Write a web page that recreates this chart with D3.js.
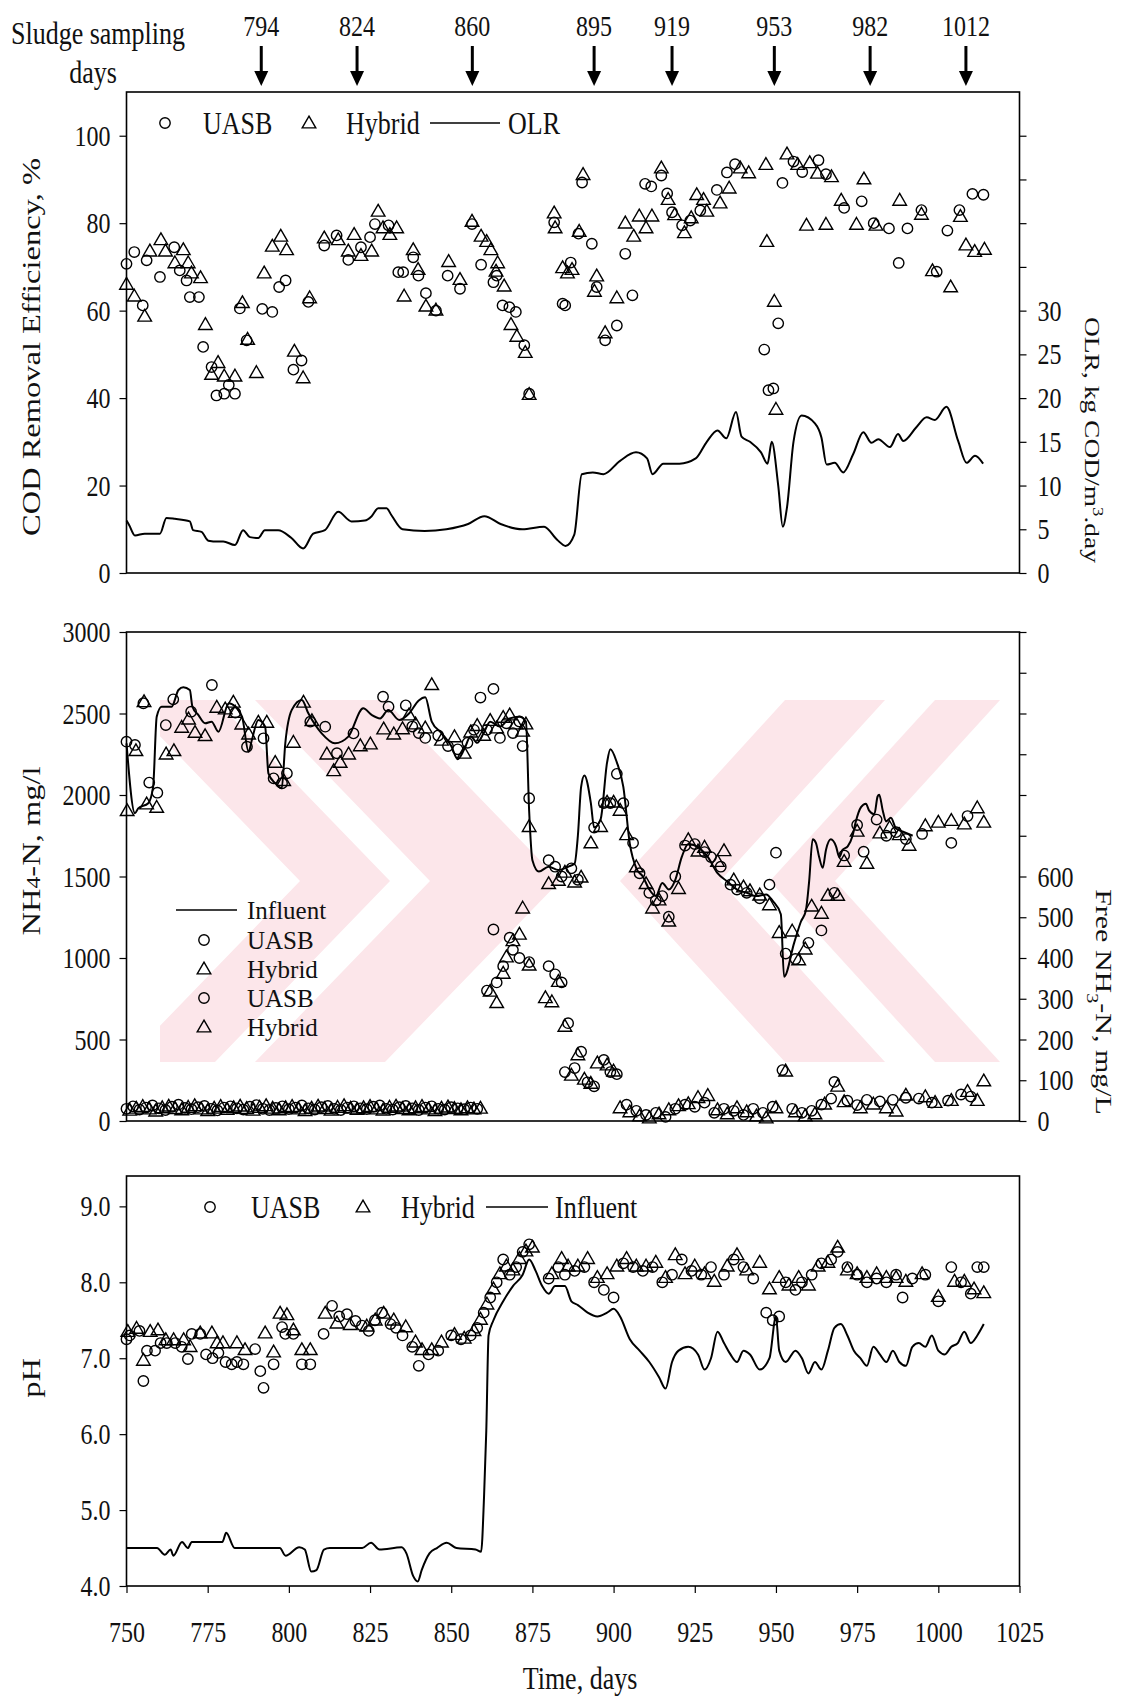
<!DOCTYPE html>
<html>
<head>
<meta charset="utf-8">
<script src="https://cdn.jsdelivr.net/npm/d3@7"></script>
<style>
  body { margin: 0; background: #fff; }
  text { font-family: "Liberation Serif", "Times New Roman", serif; fill: #111; }
</style>
</head>
<body>
<svg id="chart" width="1125" height="1701"></svg>
<script>
// ---- data: [day, value] ----
var samplingDays = ["794", "824", "860", "895", "919", "953", "982", "1012"];
var arrowAt = [791.5, 821, 856.5, 894, 918, 949.5, 979, 1008.5];

var codUasb = [[750,70.7],[752.4,73.4],[755,61.2],[756.2,71.5],[760.3,67.7],[764.7,74.5],[766.4,69.2],[768.5,66.9],[769.5,63.1],[772.3,63.1],[773.6,51.7],[776.2,47.1],[777.7,40.6],[780.1,41],[781.5,43],[783.4,41],[784.9,60.5],[787,53.2],[791.8,60.4],[794.9,59.7],[797,65.4],[799,66.9],[801.4,46.5],[803.9,48.6],[806,62],[810.9,74.9],[814.7,77.2],[818.3,71.6],[822.2,74.5],[825,76.8],[826.5,79.8],[830.7,79.5],[833.7,68.8],[835.2,68.8],[838.3,72.2],[839.9,68],[842.2,64],[845.3,60],[848.9,68],[852.7,65],[856.4,79.8],[859.2,70.5],[863,66.5],[864,68],[865.8,61.2],[867.9,60.8],[869.9,59.7],[872.5,52.1],[874,41],[881.7,80.2],[884.3,61.6],[885.1,61.2],[886.8,71],[889.2,77.6],[890.3,89.3],[893.3,75.3],[894.8,65.4],[897.4,53.2],[901,56.6],[903.6,73],[905.8,63.5],[909.7,89],[911.6,88.4],[914.7,90.9],[916.5,86.8],[918,82.5],[921.1,79.5],[923.6,80.6],[926.7,82.9],[931.8,87.6],[934.9,91.6],[937.4,93.5],[946.4,51.1],[947.7,41.8],[949.2,42.2],[950.7,57.1],[952,89.2],[955.4,94.1],[958.1,91.7],[963.1,94.4],[965.4,91.2],[971,83.5],[976.4,85],[980.1,80],[984.8,78.8],[987.8,70.9],[990.5,78.8],[994.8,83],[999.5,68.9],[1002.8,78.3],[1006.5,83],[1010.5,86.7],[1013.9,86.5]];

var codHybrid = [[750,65.8],[752.4,63.1],[755.6,58.5],[757.2,73.4],[760.6,76],[762,73.4],[764.9,70.7],[767.5,73.7],[769,70.7],[770,68.4],[772.8,67.3],[774.3,56.6],[776.2,45.2],[778.2,47.9],[780.1,44.8],[783.4,44.8],[785.7,61.6],[787.3,53.2],[790,45.6],[792.4,68.4],[794.9,74.5],[797.5,76.8],[799.3,73.7],[801.7,50.5],[804.4,44.4],[806.4,62.7],[810.9,76.4],[815.2,76],[818.3,73.4],[820.1,77.2],[822.2,72.4],[825.5,73.4],[827.5,82.5],[829,78.7],[831.1,77.2],[833.2,78.7],[835.5,63.1],[838.3,73.7],[839.8,69.2],[842.2,60.8],[845.3,59.9],[849.2,71],[852.7,66.9],[856.4,80.2],[859.2,76.8],[860.9,75.6],[862.2,73.7],[863.8,68.8],[864.3,70.7],[866.3,65.4],[868.4,56.6],[870.2,53.9],[872.8,50.2],[874,40.6],[881.7,82.1],[882,78.7],[884.3,69.6],[885.8,68.4],[887.2,69.2],[889.4,77.9],[890.6,90.9],[894.1,64.2],[894.8,67.7],[897.4,54.7],[901,62.7],[903.6,79.8],[906.2,76.8],[907.9,81.4],[910,78.7],[911.8,81.4],[914.7,92.4],[916.8,85.2],[918.8,81.7],[921.8,77.6],[923.9,81],[925.6,86.3],[927.7,85.2],[928.7,82.5],[932.8,84.4],[935.6,87.8],[939,92.4],[941.6,91.3],[946.9,93.2],[947.2,75.6],[949.5,61.9],[950,37.2],[953.4,95.6],[956.7,93.2],[959.4,79.3],[960.4,93.6],[962.8,91.2],[965.4,79.5],[967.1,90.4],[970.1,85],[974.8,79.5],[977.1,89.9],[980.8,79.3],[988.1,85],[994.8,81.8],[998.2,68.9],[1003.8,65.2],[1006.8,81.3],[1008.5,74.8],[1011.2,73.3],[1014.2,73.8]];

var olr = [[750,6],[750.8,5.5],[752.6,4.3],[755.6,4.5],[760.3,4.5],[762.3,6.3],[764.9,6.2],[769.5,5.9],[770.5,4.9],[773.1,4.7],[775.2,3.7],[778.2,3.6],[779.8,3.6],[783.4,3.2],[785.9,4.9],[788,4.1],[790.6,4],[792.6,4.9],[796.7,4.9],[800.8,4],[804.4,2.8],[807.5,4.5],[811.1,4.9],[815.2,7],[819.3,5.9],[823.4,6],[825.5,6.5],[827.5,7.4],[830.1,7.4],[831.6,6.6],[835,5],[841.8,4.8],[848.5,5],[855.2,5.6],[860.2,6.5],[865.2,5.6],[871.9,5],[878.6,5.3],[882.6,3.8],[885.2,3.1],[887.9,4.4],[890.2,11.3],[893.6,11.5],[896.9,11.3],[901.9,12.8],[906.9,13.8],[910.3,13.1],[912,11.3],[915.3,12.5],[920.3,12.5],[925.3,13.1],[928.7,15],[932,16.3],[934.7,15.4],[937.7,18.4],[939.4,15.6],[942,15],[945.4,13.8],[947.4,12.5],[948.7,15],[950.7,10],[952.1,5.3],[953.4,7.5],[955.4,15],[957.9,18],[962,17.1],[964,15.5],[965.6,12.4],[968.1,12.6],[970.7,11.5],[973.8,13.6],[976.9,16.1],[979.4,14.9],[981.5,15.3],[985.1,14.4],[987.6,15.9],[989.2,15.1],[993.3,16.7],[996.4,17.8],[998.9,17.5],[1002.5,19],[1006.1,15.1],[1008.7,12.6],[1011.3,13.4],[1013.8,12.5]];

var nh4Influent = [[750,2317],[752.6,1888],[753.6,1918],[756.7,1949],[758.2,2051],[759.3,2480],[760.8,2542],[763.9,2542],[766,2644],[767.5,2661],[769.5,2644],[770.3,2542],[772.1,2491],[774.2,2440],[776.2,2450],[778.3,2388],[781.5,2563],[783.5,2542],[785.6,2480],[787.6,2266],[788.6,2337],[790.6,2460],[792.7,2419],[793.7,2133],[795.8,2072],[797.8,2041],[798.9,2317],[800.9,2522],[804,2583],[806,2501],[810.1,2378],[814.2,2317],[818.3,2358],[822.9,2532],[825.5,2491],[828.1,2470],[830.6,2522],[834,2460],[837,2500],[840,2580],[842,2600],[844,2450],[847,2380],[850,2300],[852,2220],[854,2280],[856,2360],[858,2320],[860,2380],[862,2450],[865,2420],[868,2470],[871,2480],[873,2450],[874,1900],[875,1600],[877,1530],[880,1560],[883,1540],[886,1560],[888,1580],[889,1750],[890,2050],[891,2120],[893,1950],[894,1800],[896,1850],[898,2200],[899,2280],[901,2200],[903,2050],[905,1700],[907,1550],[909,1500],[911,1420],[913,1380],[915,1460],[917,1420],[919,1480],[921,1620],[923,1700],[926,1680],[929,1620],[932,1520],[935,1470],[938,1420],[941,1400],[944,1380],[947,1390],[949,1350],[951.5,1268],[952.5,885],[955.6,1093],[957.7,1224],[959.2,1290],[960.2,1466],[961.3,1728],[962.3,1706],[963.3,1619],[964.4,1553],[965.4,1663],[966.9,1728],[968.5,1685],[969.5,1619],[970.5,1663],[972.1,1685],[973.6,1750],[974.6,1838],[976.2,1926],[977.7,1947],[978.7,1904],[980.3,1882],[981.3,1991],[981.8,2002],[982.9,1904],[983.9,1838],[985.4,1860],[987,1794],[989.5,1772],[992.1,1750]];

var nh4Uasb = [[750,2327],[752.6,2307],[755.2,2563],[757,2076],[759.5,2014],[762.1,2429],[764.4,2587],[769.9,2511],[776.3,2675],[783.5,2505],[787.1,2296],[792.2,2348],[795.3,2102],[797.9,2072],[799.4,2133],[806.6,2450],[811.2,2419],[814.8,2256],[819.9,2378],[829,2603],[830.7,2542],[836,2550],[838,2420],[840,2380],[842,2350],[846,2365],[849,2300],[852,2280],[855,2320],[857,2400],[859,2598],[861,2400],[863,2651],[865,2350],[867,2440],[869,2380],[871,2451],[872,2300],[874,1980],[880,1600],[882,1560],[884,1500],[887,1550],[889,1480],[894,1800],[897,1950],[899,1950],[901,2130],[903,1950],[906,1706],[908,1520],[911,1400],[913,1353],[915,1380],[917,1253],[919,1500],[922,1690],[925,1699],[928,1650],[930,1619],[933,1560],[936,1450],[938,1420],[941,1400],[945,1366],[948,1450],[950,1646],[953,1027],[956,994],[960,1093],[964,1169],[968,1400],[971,1629],[975,1816],[977,1652],[981,1849],[984,1750],[987,1772],[990,1730],[995,1761],[1004,1706],[1009,1871]];

var nh4Hybrid = [[750.2,1898],[752.9,2266],[755.4,2566],[756.2,1939],[759.3,1918],[762.2,2245],[764.6,2266],[767,2409],[769.1,2460],[771.1,2378],[774.2,2358],[777.8,2532],[780.4,2522],[782.9,2563],[783.5,2501],[785.5,2429],[787.6,2368],[790.6,2440],[793.2,2440],[795.8,2194],[798.4,2082],[801.4,2317],[804.5,2563],[807.1,2450],[811.7,2245],[813.8,2143],[815.8,2194],[818.4,2245],[822,2296],[825.1,2307],[829.2,2399],[832.3,2368],[835,2400],[837,2485],[839,2430],[842,2405],[844,2671],[847,2330],[851,2351],[854,2250],[856,2380],[858,2420],[860,2360],[862,2451],[864,2405],[866,2470],[868,2485],[870,2430],[872,2385],[873,2430],[874,1800],[880,1450],[883,1470],[885,1520],[888,1460],[890,1490],[893,1700],[896,1800],[898,1950],[900,1950],[902,1900],[904,1750],[907,1553],[910,1450],[912,1300],[914,1350],[917,1220],[920,1420],[923,1719],[926,1650],[928,1673],[932,1586],[934,1652],[937,1473],[940,1430],[942,1406],[945,1380],[948,1320],[951,1150],[955,1159],[957,983],[959,1049],[961,1312],[964,1268],[966,1378],[969,1378],[971,1586],[975,1772],[978,1575],[982,1761],[985,1794],[988,1750],[991,1685],[996,1805],[1000,1827],[1004,1838],[1008,1816],[1012,1915],[1014,1827]];

var freeUasb = [[750,30],[752,36],[754,28],[756,33],[758,38],[760,31],[762,27],[764,35],[766,40],[768,32],[770,29],[772,34],[774,37],[776,30],[778,26],[780,33],[782,36],[784,31],[786,28],[788,35],[790,39],[792,30],[794,27],[796,32],[798,36],[800,29],[802,33],[804,38],[806,31],[808,28],[810,34],[812,37],[814,30],[816,27],[818,33],[820,36],[822,31],[824,29],[826,35],[828,38],[830,30],[832,28],[834,34],[836,37],[838,31],[840,27],[842,33],[844,36],[846,30],[848,28],[850,34],[852,31],[854,29],[856,33],[858,30],[861,320],[863,470],[864,340],[866,380],[868,450],[869,420],[871,400],[874,390],[880,380],[882,360],[884,340],[886,240],[885,120],[888,130],[890,170],[892,95],[894,85],[897,150],[899,120],[901,115],[904,40],[907,25],[910,15],[913,20],[916,10],[919,30],[922,40],[925,35],[928,45],[931,20],[934,30],[937,25],[940,15],[943,30],[946,20],[949,35],[952,125],[955,30],[958,20],[961,25],[964,40],[967,55],[968,96],[972,50],[975,39],[978,52],[982,48],[986,52],[990,57],[994,55],[998,45],[1003,50],[1007,65],[1010,60]];

var freeHybrid = [[751,24],[753,29],[755,33],[757,27],[759,22],[761,30],[763,34],[765,28],[767,25],[769,31],[771,35],[773,27],[775,23],[777,29],[779,33],[781,26],[783,30],[785,34],[787,28],[789,24],[791,31],[793,35],[795,29],[797,25],[799,30],[801,33],[803,27],[805,23],[807,29],[809,34],[811,28],[813,24],[815,31],[817,35],[819,29],[821,26],[823,30],[825,33],[827,27],[829,24],[831,31],[833,34],[835,28],[837,25],[839,30],[841,33],[843,27],[845,23],[847,29],[849,32],[851,28],[853,25],[855,30],[857,27],[859,29],[862,316],[864,288],[866,360],[867,400],[869,440],[871,456],[872,520],[874,380],[879,300],[881,290],[883,340],[885,230],[887,110],[889,160],[891,100],[893,90],[895,140],[898,135],[900,120],[902,30],[905,20],[908,10],[911,5],[914,15],[917,25],[920,35],[923,40],[926,55],[929,60],[932,25],[935,15],[938,30],[941,20],[944,10],[947,5],[950,30],[953,120],[956,20],[959,10],[962,15],[965,39],[969,83],[971,45],[976,30],[980,39],[984,30],[987,22],[990,61],[996,57],[999,43],[1004,48],[1009,70],[1012,48],[1014,96]];

var phInfluent = [[750,4.5],[759.4,4.5],[761.8,4.41],[763.6,4.48],[764.4,4.4],[767.1,4.58],[768.9,4.5],[770.1,4.58],[779.5,4.58],[780.7,4.7],[783.3,4.5],[797.2,4.5],[799,4.4],[803.2,4.51],[804.9,4.48],[806.9,4.19],[808.5,4.21],[810.8,4.48],[812.6,4.5],[822.6,4.5],[825.3,4.57],[827.9,4.48],[834.7,4.51],[836.2,4.43],[838.3,4.13],[839.7,4.06],[840.9,4.21],[843.3,4.43],[845.6,4.5],[848.6,4.57],[851.6,4.5],[857.5,4.48],[859.2,4.45],[860.1,5.17],[860.8,6.05],[861.5,7.3],[863,7.5],[866,7.75],[869,7.95],[872,8.1],[874,8.3],[876,8.15],[878,7.95],[880,7.85],[882,7.95],[885,7.95],[887,7.75],[889,7.7],[892,7.6],[895,7.55],[898,7.6],[900,7.65],[902,7.55],[905,7.25],[908,7.1],[911,6.95],[914,6.75],[916,6.6],[918,6.95],[920,7.1],[923,7.15],[926,7.05],[928,6.85],[930,7.0],[932,7.35],[934,7.2],[936,7.05],[938,6.95],[940,7.1],[942,7.05],[945,6.85],[948,7.0],[950,7.55],[951,7.1],[953,6.95],[956,7.1],[958,7.0],[960,6.8],[962,6.95],[964,6.85],[966,7.1],[968,7.4],[970,7.45],[972,7.3],[974,7.1],[976,7.0],[978,6.9],[980,7.15],[982,7.05],[984,6.95],[986,7.1],[988,6.95],[990,6.9],[992,7.15],[994,7.2],[996,7.15],[998,7.3],[1000,7.1],[1002,7.05],[1004,7.15],[1006,7.2],[1008,7.35],[1010,7.2],[1012,7.3],[1014,7.45]];

var phUasb = [[750,7.25],[751,7.3],[754,7.36],[755.2,6.7],[756.3,7.1],[758.8,7.1],[760.5,7.2],[762.4,7.2],[765,7.2],[767,7.15],[768.9,6.99],[770.1,7.32],[772.7,7.32],[774.5,7.05],[776.5,7.0],[778.3,7.07],[780.5,6.95],[782.4,6.92],[784,6.95],[786,6.92],[789.6,7.12],[791.2,6.83],[792.2,6.61],[795.3,6.92],[797.9,7.41],[798.9,7.32],[801.4,7.32],[804,6.92],[806.6,6.92],[810.7,7.32],[813.3,7.69],[815.5,7.55],[817.9,7.58],[820.5,7.49],[822.5,7.43],[824.6,7.36],[826.5,7.5],[828.7,7.6],[831.3,7.45],[833,7.4],[835,7.3],[838,7.15],[840,6.9],[843,7.05],[846,7.1],[850,7.3],[853,7.25],[856,7.3],[858,7.4],[860,7.6],[862,7.8],[864,8.0],[866,8.3],[868,8.1],[870,8.2],[872,8.4],[874,8.5],[880,8.05],[883,8.2],[885,8.1],[888,8.15],[891,8.2],[894,8.0],[897,7.9],[900,7.8],[903,8.25],[906,8.2],[909,8.15],[912,8.2],[915,8.0],[918,8.1],[921,8.3],[924,8.15],[927,8.1],[930,8.2],[934,8.1],[937,8.3],[940,8.2],[943,8.05],[947,7.6],[949,7.5],[951,7.55],[953,8.0],[956,7.9],[958,8.0],[961,8.1],[964,8.25],[967,8.3],[969,8.4],[972,8.2],[975,8.1],[978,8.0],[981,8.05],[984,8.0],[987,8.1],[989,7.8],[992,8.05],[996,8.1],[1000,7.75],[1004,8.2],[1007,8.0],[1010,7.85],[1012,8.2],[1014,8.2]];

var phHybrid = [[750.4,7.34],[753.1,7.38],[755.2,6.96],[757.3,7.34],[759.7,7.36],[762.1,7.23],[764.5,7.23],[767.6,7.23],[769.6,7.14],[772.7,7.32],[776.3,7.32],[777.9,7.19],[779.7,7.19],[784,7.19],[786.5,7.1],[792.7,7.32],[795.3,7.07],[797.3,7.58],[799.4,7.56],[801.4,7.36],[804,7.1],[806.6,7.1],[811.2,7.58],[814.8,7.45],[818.9,7.43],[824,7.41],[826.6,7.49],[829.2,7.58],[832.3,7.49],[836,7.4],[839,7.2],[841,7.1],[844,7.1],[847,7.2],[851,7.3],[854,7.25],[857,7.35],[859,7.5],[861,7.7],[863,7.9],[865,8.1],[867,8.2],[869,8.15],[871,8.3],[873,8.4],[875,8.45],[881,8.1],[884,8.3],[886,8.2],[889,8.2],[892,8.3],[895,8.05],[898,8.1],[901,8.2],[904,8.3],[907,8.2],[910,8.2],[913,8.25],[916,8.05],[919,8.35],[922,8.1],[925,8.2],[928,8.1],[931,8.0],[935,8.2],[938,8.35],[941,8.15],[945,8.25],[948,7.9],[951,8.05],[954,7.95],[957,8.05],[960,7.95],[963,8.2],[966,8.25],[969,8.45],[972,8.15],[975,8.1],[978,8.05],[981,8.1],[984,8.05],[987,8.05],[990,8.0],[995,8.1],[1000,7.8],[1005,8.0],[1008,8.0],[1011,7.9],[1014,7.85]];

var dayTicks = [750, 775, 800, 825, 850, 875, 900, 925, 950, 975, 1000, 1025];
var codTicks = [0, 20, 40, 60, 80, 100];
var olrTicks = [0, 5, 10, 15, 20, 25, 30, 35, 40, 45, 50];
var nh4Ticks = [0, 500, 1000, 1500, 2000, 2500, 3000];
var freeTicks = [0, 100, 200, 300, 400, 500, 600, 700, 800, 900, 1000, 1100, 1200];
var phTicks = [4, 5, 6, 7, 8, 9];

// ---- layout ----
var SY = 1.25;            // scanned glyphs are taller than they are wide
var left = 126.5, right = 1019.5;
var svg = d3.select("#chart");

var x = d3.scaleLinear().domain([750, 1025]).range([left, right]);
var yCod = d3.scaleLinear().domain([0, 110]).range([573, 92]);
var yOlr = d3.scaleLinear().domain([0, 55]).range([573, 92]);
var yNh4 = d3.scaleLinear().domain([0, 3000]).range([1121, 632]);
var yFree = d3.scaleLinear().domain([0, 1200]).range([1121, 632]);
var yPh = d3.scaleLinear().domain([4, 9.4]).range([1586, 1176]);

function txt(g, x0, y0, size, anchor, rot, sy) {
    return g.append("text")
        .attr("transform", "translate(" + x0 + "," + y0 + ") scale(1," + (sy || SY) + ")" + (rot ? " rotate(" + rot + ")" : ""))
        .attr("text-anchor", anchor || "start")
        .attr("dy", "0.35em")
        .style("font-size", size + "px");
}

function styleAxis(g, size) {
    g.selectAll("path.domain").remove();
    g.selectAll("line").attr("stroke", "#000").attr("stroke-width", 1.2);
    g.selectAll("text")
        .attr("transform", "scale(1," + SY + ")")
        .style("font-size", size + "px")
        .style("font-family", "'Liberation Serif', 'Times New Roman', serif")
        .attr("fill", "#111");
}

function frame(top, bottom) {
    svg.append("rect")
        .attr("x", left).attr("y", top)
        .attr("width", right - left).attr("height", bottom - top)
        .attr("fill", "none").attr("stroke", "#000").attr("stroke-width", 1.6);
}

function circles(data, ys) {
    svg.append("g").selectAll("circle").data(data).enter().append("circle")
        .attr("cx", function (d) { return x(d[0]); })
        .attr("cy", function (d) { return ys(d[1]); })
        .attr("r", 5.2)
        .attr("fill", "none").attr("stroke", "#000").attr("stroke-width", 1.4);
}

var tri = d3.symbol().type(d3.symbolTriangle).size(80);
function triangles(data, ys) {
    svg.append("g").selectAll("path").data(data).enter().append("path")
        .attr("d", tri)
        .attr("transform", function (d) { return "translate(" + x(d[0]) + "," + ys(d[1]) + ")"; })
        .attr("fill", "none").attr("stroke", "#000").attr("stroke-width", 1.4);
}

function curve(data, ys) {
    var line = d3.line()
        .x(function (d) { return x(d[0]); })
        .y(function (d) { return ys(d[1]); })
        .curve(d3.curveMonotoneX);
    svg.append("path").datum(data)
        .attr("d", line)
        .attr("fill", "none").attr("stroke", "#000").attr("stroke-width", 2);
}

// ---- faint pink watermark behind the middle panel (scan artefact) ----
var wm = svg.append("g").attr("fill", "#fce6ea");
svg.append("clipPath").attr("id", "wmclip").append("rect")
    .attr("x", 160).attr("y", 700).attr("width", 910).attr("height", 362);
wm.attr("clip-path", "url(#wmclip)");
// chevron stripe: apex span [a1,a2] at the middle row, arms reaching dx at top/bottom
function chevron(a1, a2, dx) {
    var top = 700, mid = 881, bot = 1062;
    return "M" + (a1 + dx) + "," + top + "L" + (a2 + dx) + "," + top + "L" + a2 + "," + mid +
        "L" + (a2 + dx) + "," + bot + "L" + (a1 + dx) + "," + bot + "L" + a1 + "," + mid + "Z";
}
[[300, 390], [430, 560]].forEach(function (s) { wm.append("path").attr("d", chevron(s[0], s[1], -175)); });
[[620, 720], [770, 835]].forEach(function (s) { wm.append("path").attr("d", chevron(s[0], s[1], 165)); });

// ---- sampling arrows ----
txt(svg, 11, 33, 26).text("Sludge sampling");
txt(svg, 93, 72, 26, "middle").text("days");
samplingDays.forEach(function (lab, i) {
    var ax = x(arrowAt[i]);
    txt(svg, ax, 25, 24, "middle").text(lab);
    svg.append("line").attr("x1", ax).attr("x2", ax).attr("y1", 46).attr("y2", 73)
        .attr("stroke", "#000").attr("stroke-width", 3);
    svg.append("path").attr("d", "M" + (ax - 7) + ",71L" + (ax + 7) + ",71L" + ax + ",86Z").attr("fill", "#000");
});

// ---- panel 1: COD removal and OLR ----
frame(92, 573);
svg.append("g").attr("transform", "translate(" + left + ",0)")
    .call(d3.axisLeft(yCod).tickValues(codTicks).tickSize(7).tickPadding(9))
    .call(styleAxis, 24);
svg.append("g").attr("transform", "translate(" + right + ",0)")
    .call(d3.axisRight(yOlr).tickValues(olrTicks).tickSize(7).tickPadding(11)
        .tickFormat(function (d) { return d <= 30 ? d : ""; }))
    .call(styleAxis, 24);
curve(olr, yOlr);
circles(codUasb, yCod);
triangles(codHybrid, yCod);

txt(svg, 31, 347, 26, "middle", -90).text("COD Removal Efficiency, %");
var olrTitle = txt(svg, 1093, 440, 22, "middle", 90);
olrTitle.append("tspan").text("OLR, kg COD/m");
olrTitle.append("tspan").attr("baseline-shift", "super").style("font-size", "15px").text("3");
olrTitle.append("tspan").text(".day");

svg.append("circle").attr("cx", 165).attr("cy", 123).attr("r", 5.2).attr("fill", "none").attr("stroke", "#000").attr("stroke-width", 1.4);
txt(svg, 203, 123, 26).text("UASB");
svg.append("path").attr("d", tri).attr("transform", "translate(309,124)").attr("fill", "none").attr("stroke", "#000").attr("stroke-width", 1.4);
txt(svg, 346, 123, 26).text("Hybrid");
svg.append("line").attr("x1", 430).attr("x2", 500).attr("y1", 123).attr("y2", 123).attr("stroke", "#000").attr("stroke-width", 1.6);
txt(svg, 508, 123, 26).text("OLR");

// ---- panel 2: NH4-N and free NH3-N ----
frame(632, 1121);
svg.append("g").attr("transform", "translate(" + left + ",0)")
    .call(d3.axisLeft(yNh4).tickValues(nh4Ticks).tickSize(7).tickPadding(9).tickFormat(d3.format("d")))
    .call(styleAxis, 24);
svg.append("g").attr("transform", "translate(" + right + ",0)")
    .call(d3.axisRight(yFree).tickValues(freeTicks).tickSize(7).tickPadding(11)
        .tickFormat(function (d) { return d <= 600 ? d : ""; }))
    .call(styleAxis, 24);
curve(nh4Influent, yNh4);
circles(nh4Uasb, yNh4);
triangles(nh4Hybrid, yNh4);
circles(freeUasb, yFree);
triangles(freeHybrid, yFree);

var nhTitle = txt(svg, 31, 851, 26, "middle", -90);
nhTitle.append("tspan").text("NH");
nhTitle.append("tspan").style("font-size", "19px").text("4");
nhTitle.append("tspan").text("-N, mg/l");
var freeTitle = txt(svg, 1104, 1002, 24, "middle", 90);
freeTitle.append("tspan").text("Free NH");
freeTitle.append("tspan").attr("baseline-shift", "sub").style("font-size", "16px").text("3");
freeTitle.append("tspan").text("-N, mg/L");

svg.append("line").attr("x1", 176).attr("x2", 237).attr("y1", 910).attr("y2", 910).attr("stroke", "#000").attr("stroke-width", 1.6);
txt(svg, 247, 910, 25, "start", 0, 1).text("Influent");
[["UASB", 940], ["Hybrid", 969], ["UASB", 998], ["Hybrid", 1027]].forEach(function (row) {
    if (row[0] === "UASB") {
        svg.append("circle").attr("cx", 204).attr("cy", row[1]).attr("r", 5.2).attr("fill", "none").attr("stroke", "#000").attr("stroke-width", 1.4);
    } else {
        svg.append("path").attr("d", tri).attr("transform", "translate(204," + (row[1] + 1) + ")").attr("fill", "none").attr("stroke", "#000").attr("stroke-width", 1.4);
    }
    txt(svg, 247, row[1], 25, "start", 0, 1).text(row[0]);
});

// ---- panel 3: pH ----
frame(1176, 1586);
svg.append("g").attr("transform", "translate(" + left + ",0)")
    .call(d3.axisLeft(yPh).tickValues(phTicks).tickSize(7).tickPadding(9).tickFormat(d3.format(".1f")))
    .call(styleAxis, 24);
svg.append("g").attr("transform", "translate(0,1586)")
    .call(d3.axisBottom(x).tickValues(dayTicks).tickSize(7).tickPadding(21).tickFormat(d3.format("d")))
    .call(styleAxis, 24);
curve(phInfluent, yPh);
circles(phUasb, yPh);
triangles(phHybrid, yPh);

txt(svg, 31, 1378, 26, "middle", -90).text("pH");
txt(svg, 580, 1678, 26, "middle").text("Time, days");

svg.append("circle").attr("cx", 210).attr("cy", 1207).attr("r", 5.2).attr("fill", "none").attr("stroke", "#000").attr("stroke-width", 1.4);
txt(svg, 251, 1207, 26).text("UASB");
svg.append("path").attr("d", tri).attr("transform", "translate(363,1208)").attr("fill", "none").attr("stroke", "#000").attr("stroke-width", 1.4);
txt(svg, 401, 1207, 26).text("Hybrid");
svg.append("line").attr("x1", 486).attr("x2", 548).attr("y1", 1207).attr("y2", 1207).attr("stroke", "#000").attr("stroke-width", 1.6);
txt(svg, 555, 1207, 26).text("Influent");
</script>
</body>
</html>
